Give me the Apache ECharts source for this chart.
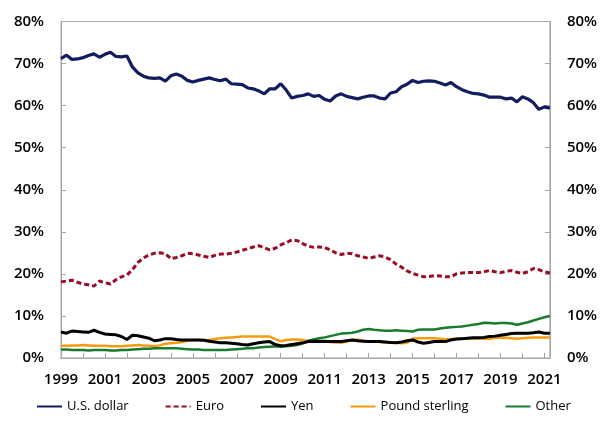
<!DOCTYPE html>
<html>
<head>
<meta charset="utf-8">
<script src="https://cdn.jsdelivr.net/npm/echarts@6/dist/echarts.min.js"></script>
<style>
html,body{margin:0;padding:0;background:#fff;}
#c{width:600px;height:425px;}
</style>
</head>
<body>
<div id="c"></div>
<script>
// Quarterly, 1999Q1 .. 2021Q2
var years = [1999,2000,2001,2002,2003,2004,2005,2006,2007,2008,2009,2010,2011,2012,2013,2014,2015,2016,2017,2018,2019,2020,2021];
var categories = [];
years.forEach(function(y){ for (var q=1;q<=4;q++){ if (y===2021 && q>2) break; categories.push(y+'Q'+q); } });

var usDollar = [71.2,72.0,71.0,71.1,71.4,71.9,72.3,71.5,72.2,72.7,71.7,71.6,71.8,69.2,67.8,67.0,66.6,66.5,66.6,65.8,67.1,67.5,67.0,66.0,65.6,66.0,66.3,66.6,66.2,65.9,66.3,65.2,65.1,65.0,64.2,64.0,63.5,62.8,64.0,64.0,65.2,63.7,61.8,62.2,62.4,62.8,62.2,62.4,61.5,61.1,62.3,62.8,62.2,61.9,61.6,62.0,62.3,62.3,61.8,61.6,63.0,63.3,64.5,65.1,66.0,65.5,65.8,65.9,65.8,65.4,64.9,65.5,64.5,63.8,63.3,62.9,62.8,62.5,62.0,62.0,62.0,61.6,61.8,60.9,62.1,61.6,60.7,59.1,59.7,59.4];
var euro = [18.1,18.3,18.5,18.0,17.6,17.4,17.1,18.3,17.9,17.6,18.6,19.3,19.7,21.0,22.7,23.8,24.5,24.9,25.0,24.8,23.6,23.9,24.3,24.9,24.8,24.5,24.2,23.9,24.4,24.7,24.7,24.9,25.2,25.6,26.0,26.4,26.7,26.2,25.7,26.1,26.9,27.4,28.1,27.9,27.2,26.6,26.3,26.4,26.3,25.7,25.0,24.6,24.9,24.8,24.3,24.0,23.7,24.0,24.3,24.0,23.4,22.3,21.6,20.7,20.1,19.7,19.3,19.4,19.6,19.5,19.3,19.3,20.0,20.2,20.3,20.3,20.3,20.5,20.8,20.5,20.3,20.6,20.8,20.4,20.1,20.5,21.3,21.0,20.5,20.2];
var yen = [6.2,5.9,6.4,6.3,6.2,6.1,6.6,6.1,5.7,5.6,5.5,5.1,4.4,5.4,5.3,5.0,4.7,4.1,4.3,4.6,4.6,4.4,4.3,4.3,4.3,4.3,4.2,4.0,3.8,3.6,3.6,3.5,3.4,3.2,3.1,3.4,3.6,3.8,3.9,3.2,2.9,3.0,3.2,3.4,3.6,3.9,4.0,3.9,4.0,3.9,3.9,3.9,4.1,4.3,4.1,4.0,3.9,3.9,3.9,3.8,3.7,3.6,3.8,4.1,4.3,3.8,3.5,3.7,3.9,3.9,3.9,4.3,4.5,4.6,4.7,4.8,4.8,4.9,5.1,5.2,5.4,5.6,5.8,5.9,5.9,5.9,6.0,6.2,5.9,5.9];
var poundSterling = [2.9,2.9,3.0,3.0,3.1,3.0,2.9,2.9,2.9,2.8,2.8,2.8,2.9,3.0,3.1,3.0,2.9,2.8,3.0,3.4,3.5,3.6,3.8,4.1,4.2,4.3,4.3,4.3,4.5,4.7,4.8,4.9,5.0,5.1,5.1,5.1,5.1,5.1,5.1,4.5,4.0,4.3,4.4,4.4,4.3,4.0,4.0,4.1,3.9,3.8,3.7,3.6,3.9,4.3,4.4,4.1,3.9,3.9,3.8,3.7,3.6,3.6,3.5,3.6,4.6,4.7,4.7,4.7,4.7,4.6,4.4,4.5,4.6,4.6,4.6,4.6,4.7,4.6,4.6,4.8,4.9,4.8,4.7,4.6,4.7,4.8,4.9,4.9,4.9,4.9];
var other = [2.0,2.0,1.9,1.9,1.9,1.8,1.9,1.9,1.9,1.8,1.8,1.9,1.9,2.0,2.1,2.2,2.2,2.3,2.3,2.3,2.3,2.3,2.2,2.1,2.0,2.0,1.9,1.9,1.9,1.9,1.9,2.0,2.1,2.2,2.3,2.3,2.5,2.6,2.7,2.8,2.7,2.8,2.9,3.1,3.5,4.1,4.4,4.7,4.9,5.2,5.5,5.8,5.9,6.0,6.3,6.7,6.9,6.7,6.6,6.5,6.5,6.6,6.5,6.4,6.3,6.7,6.8,6.8,6.8,7.0,7.2,7.3,7.4,7.5,7.7,7.9,8.1,8.4,8.3,8.2,8.3,8.3,8.2,7.9,8.2,8.5,8.9,9.3,9.7,10.0];

var seriesNames = ['U.S. dollar','Euro','Yen','Pound sterling','Other'];
var yTicks = {min:0, max:80, interval:10};

var font = '"Open Sans", "Liberation Sans", sans-serif';
var axisColor = '#a6a6a6';

function yAxis(pos){
  return {
    type:'value', position:pos, min:yTicks.min, max:yTicks.max, interval:yTicks.interval,
    axisLine:{show:true, lineStyle:{color:axisColor, width:1}},
    axisTick:{show:true, inside:true, length:5, lineStyle:{color:axisColor}},
    splitLine:{show:false},
    axisLabel:{formatter:'{value}%', color:'#000', fontSize:15, fontFamily:font, fontWeight:600, margin:17}
  };
}

function lineSeries(name, data, color, width, dash, z){
  return {
    name:name, type:'line', data:data, symbol:'none', z:z,
    lineStyle:{color:color, width:width, type:dash || 'solid'},
    itemStyle:{color:color, opacity:0}
  };
}

var chart = echarts.init(document.getElementById('c'));
chart.setOption({
  animation:false,
  backgroundColor:'#fff',
  grid:{left:61, right:49, top:21.5, bottom:67, show:true, borderColor:axisColor, borderWidth:1, containLabel:false},
  legend:{
    data:seriesNames, left:36, top:400, padding:0, itemGap:36, itemWidth:25, itemHeight:14,
    itemStyle:{opacity:0},
    textStyle:{color:'#000', fontSize:13, fontFamily:font}
  },
  xAxis:{
    type:'category', data:categories, boundaryGap:false,
    axisLine:{show:true, lineStyle:{color:axisColor}},
    axisTick:{show:true, inside:true, length:5, lineStyle:{color:axisColor},
      interval:function(i){ return i % 4 === 0; }},
    axisLabel:{interval:function(i){ return i % 8 === 0; }, formatter:function(v){ return v.slice(0,4); },
      color:'#000', fontSize:15, fontFamily:font, fontWeight:600, margin:14, hideOverlap:false},
    splitLine:{show:false}
  },
  yAxis:[yAxis('left'), yAxis('right')],
  series:[
    lineSeries(seriesNames[0], usDollar, '#131c5e', 3.2, null, 5),
    lineSeries(seriesNames[1], euro, '#9a0b24', 3, [5,3], 5),
    lineSeries(seriesNames[2], yen, '#000000', 3, null, 4),
    lineSeries(seriesNames[3], poundSterling, '#f59b0f', 2.5, null, 3),
    lineSeries(seriesNames[4], other, '#1a7a2e', 2.5, null, 3)
  ]
});
</script>
</body>
</html>
